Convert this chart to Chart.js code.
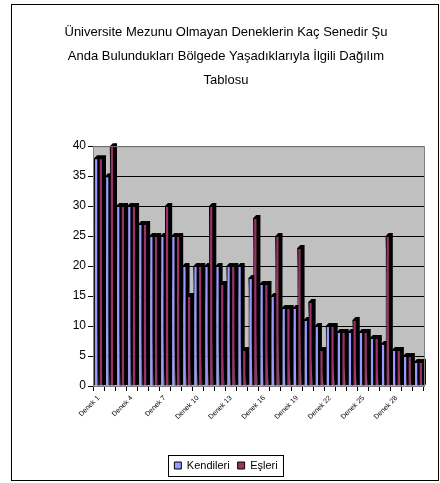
<!DOCTYPE html>
<html>
<head>
<meta charset="utf-8">
<script src="https://cdn.jsdelivr.net/npm/chart.js@4.4.1/dist/chart.umd.min.js"></script>
<style>
  body { margin: 0; background: #fff; }
  #wrap { position: relative; width: 440px; height: 483px; }
  #frame { position: absolute; left: 11px; top: 4px; width: 426px; height: 475px; border: 1px solid #000; pointer-events: none; }
</style>
</head>
<body>
<div id="wrap">
  <canvas id="chart" width="440" height="483"></canvas>
  <div id="frame"></div>
</div>
<script>
// kategoriler
const denekler = [];
for (let i = 1; i <= 30; i++) denekler.push("Denek " + i);

// seriler
const kendileri = [38, 35, 30, 30, 27, 25, 25, 25, 20, 20, 20, 20, 20, 20, 18, 17, 15, 13, 13, 11, 10, 10, 9, 9, 9, 8, 7, 6, 5, 4];
const esleri    = [38, 40, 30, 30, 27, 25, 30, 25, 15, 20, 30, 17, 20, 6, 28, 17, 25, 13, 23, 14, 6, 10, 9, 11, 9, 8, 25, 6, 5, 4];

const yTicks = [0, 5, 10, 15, 20, 25, 30, 35, 40];

const ctx = document.getElementById("chart");

// gri çizim alanı + 3B gölge
const plotBg = {
    id: "plotBg",
    beforeDraw(chart) {
        const { ctx, chartArea: a } = chart;
        ctx.save();
        ctx.fillStyle = "#C0C0C0";
        ctx.fillRect(a.left, a.top, a.right - a.left, a.bottom - a.top);
        ctx.restore();
    },
    beforeDatasetsDraw(chart) {
        const c = chart.ctx;
        c.save();
        c.fillStyle = "#000";
        chart.data.datasets.forEach((ds, i) => {
            chart.getDatasetMeta(i).data.forEach((el) => {
                const p = el.getProps(["x", "y", "base", "width"], true);
                const d = 3;
                c.beginPath();
                c.moveTo(p.x - p.width / 2, p.y);
                c.lineTo(p.x - p.width / 2 + d, p.y - d);
                c.lineTo(p.x + p.width / 2 + d, p.y - d);
                c.lineTo(p.x + p.width / 2 + d, p.base - 1);
                c.lineTo(p.x + p.width / 2, p.base);
                c.closePath();
                c.fill();
            });
        });
        c.restore();
    },
    afterDraw(chart) {
        const { ctx, chartArea: a, legend } = chart;
        ctx.save();
        ctx.strokeStyle = "#808080";
        ctx.lineWidth = 1;
        ctx.strokeRect(a.left + 0.5, a.top + 0.5, a.right - a.left, a.bottom - a.top);
        // legend kutusu
        const boxes = legend.legendHitBoxes;
        if (boxes && boxes.length) {
            const l = Math.min(...boxes.map(b => b.left)) - 6;
            const r = Math.max(...boxes.map(b => b.left + b.width)) + 6;
            const t = Math.min(...boxes.map(b => b.top)) - 5;
            const btm = Math.max(...boxes.map(b => b.top + b.height)) + 5;
            ctx.strokeStyle = "#000";
            ctx.strokeRect(Math.round(l) + 0.5, Math.round(t) + 0.5, Math.round(r - l), Math.round(btm - t));
        }
        ctx.restore();
    }
};

new Chart(ctx, {
    type: "bar",
    data: {
        labels: denekler,
        datasets: [
            {
                label: "Kendileri",
                data: kendileri,
                backgroundColor: "#9999FF",
                borderColor: "#000",
                borderWidth: 1,
                categoryPercentage: 0.85,
                barPercentage: 0.9
            },
            {
                label: "Eşleri",
                data: esleri,
                backgroundColor: "#993366",
                borderColor: "#000",
                borderWidth: 1,
                categoryPercentage: 0.85,
                barPercentage: 0.9
            }
        ]
    },
    options: {
        responsive: false,
        animation: false,
        layout: { padding: { left: 28, right: 16, top: 0, bottom: 2 } },
        plugins: {
            title: {
                display: true,
                text: [
                    "Üniversite Mezunu Olmayan Deneklerin Kaç Senedir Şu",
                    "Anda Bulundukları Bölgede Yaşadıklarıyla İlgili Dağılım",
                    "Tablosu"
                ],
                color: "#000",
                font: { family: "Liberation Sans", size: 13, weight: "normal", lineHeight: 1.85 },
                padding: { top: 20, bottom: 54 }
            },
            legend: {
                position: "bottom",
                labels: {
                    color: "#000",
                    font: { family: "Liberation Sans", size: 11 },
                    boxWidth: 7,
                    boxHeight: 7,
                    padding: 8
                }
            },
            tooltip: { enabled: false }
        },
        scales: {
            x: {
                grid: { display: true, drawOnChartArea: false, offset: true, color: "#000", tickLength: 5 },
                border: { color: "#808080" },
                ticks: {
                    autoSkip: false,
                    maxRotation: 45,
                    minRotation: 45,
                    color: "#000",
                    font: { family: "Liberation Sans", size: 7 },
                    callback: function (v, i) { return i % 3 === 0 ? this.getLabelForValue(v) : ""; }
                },
                afterFit(scale) { scale.height = 66; }
            },
            y: {
                min: 0,
                max: 40,
                afterBuildTicks(scale) { scale.ticks = yTicks.map(v => ({ value: v })); },
                grid: { color: "#000", tickLength: 5 },
                border: { color: "#808080" },
                ticks: {
                    color: "#000",
                    padding: 2,
                    font: { family: "Liberation Sans", size: 12 }
                },
                afterFit(scale) { scale.width = 65; }
            }
        }
    },
    plugins: [plotBg]
});
</script>
</body>
</html>
